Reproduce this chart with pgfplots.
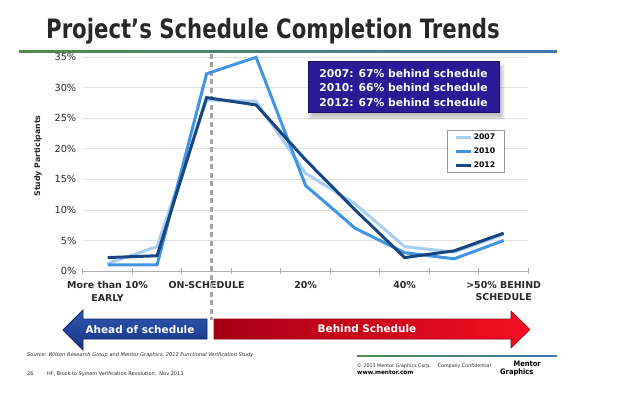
\documentclass[border=0pt]{standalone}
\usepackage{fontspec}
\setmainfont{DejaVu Sans}
\newfontfamily\condf{DejaVu Sans Condensed}
\usepackage{pgfplots}
\pgfplotsset{compat=1.18}
\usetikzlibrary{calc}
\definecolor{c07}{RGB}{168,206,243}
\definecolor{c10}{RGB}{64,150,230}
\definecolor{c12}{RGB}{24,70,130}
\definecolor{txt}{RGB}{40,40,40}
\definecolor{gridc}{RGB}{224,224,224}
\definecolor{boxc}{RGB}{42,26,150}
\definecolor{boxedge}{RGB}{25,15,100}
\definecolor{axc}{RGB}{175,175,175}
\definecolor{lgc}{RGB}{150,150,150}
\definecolor{dashc}{RGB}{165,165,165}
\begin{document}
\begin{tikzpicture}[x=1bp,y=1bp]
\begin{axis}[
  scale only axis, width=445.6bp, height=213.7bp,
  xmin=0.5, xmax=9.5, ymin=0, ymax=35,
  clip=false,
  axis lines*=left,
  y axis line style={draw=none},
  x axis line style={draw=axc, line width=0.8bp},
  xtick={0.5,1.5,...,9.5}, xticklabels={},
  xtick style={draw=axc, line width=0.8bp},
  xtick align=center, major tick length=6bp,
  ytick={0,5,...,35},
  yticklabel={\pgfmathprintnumber{\tick}\%},
  ytick style={draw=none},
  yticklabel style={font=\fontsize{9.8}{11}\selectfont, text=txt, xshift=-3bp},
  /pgf/number format/assume math mode=true,
  ymajorgrids, grid style={gridc, line width=0.8bp},
  extra x ticks={1,3,5,7,9},
  extra x tick labels={More than 10\%\\EARLY, ON-SCHEDULE, 20\%, 40\%, >50\% BEHIND\\SCHEDULE},
  extra x tick style={major tick length=0pt, grid=none,
    xticklabel style={align=center, text=txt, inner sep=0pt, yshift=-10bp,
      font=\bfseries\fontsize{9.5}{12.7}\selectfont}},
  legend cell align=left,
  legend style={at={(0.817,0.66)}, anchor=north west, draw=lgc,
    line width=0.6bp, inner xsep=8bp, inner ysep=2.5bp, row sep=5bp,
    font=\bfseries\fontsize{7.7}{9}\selectfont,
    nodes={inner sep=1bp, text height=6bp, text depth=1bp}},
  legend image code/.code={\draw[#1, line width=2.6bp] (0bp,0bp) -- (15bp,0bp);},
]
\coordinate (O) at (rel axis cs:0,0);
\draw[dashc, line width=2.2bp, dash pattern=on 5bp off 3.5bp] (axis cs:3.1,35.6) -- (axis cs:3.1,-8.1);
\addplot[c07, line width=3bp] coordinates {(1,1.2) (2,4) (3,28) (4,27.8) (5,16) (6,11) (7,4) (8,3.1) (9,6)};
\addlegendentry{2007}
\addplot[c10, line width=3bp] coordinates {(1,1) (2,1) (3,32.3) (4,35) (5,14) (6,7) (7,3) (8,2) (9,5)};
\addlegendentry{2010}
\addplot[c12, line width=3bp] coordinates {(1,2.2) (2,2.5) (3,28.4) (4,27.2) (5,18.2) (6,10) (7,2.2) (8,3.3) (9,6.2)};
\addlegendentry{2012}
\end{axis}

\begin{scope}[shift={($(O)-(82.8,121)$)}]
\useasboundingbox (0,0) rectangle (627,392);
% title
\node[anchor=base west, text=txt, inner sep=0] at (46,354)
  {\scalebox{1}[1.13]{\condf\bfseries\fontsize{23.7}{28}\selectfont Project’s Schedule Completion Trends}};
\shade[left color={rgb,255:red,80;green,140;blue,70}, right color={rgb,255:red,60;green,120;blue,175}] (19,339.5) rectangle (557,341.5);
% y label
\node[rotate=90, text=txt, font=\bfseries\fontsize{7.8}{9}\selectfont] at (38,236) {Study Participants};

% annotation box with shadow
\foreach \i in {0,1,2,3,4} {
  \fill[black, opacity=0.05] (308+\i,280-8+\i) rectangle (499+6-\i,331-3-\i);
}
\fill[boxc] (308,280) rectangle (499,331);
\draw[draw=boxedge, line width=0.8bp] (308,280) rectangle (499,331);
\node[align=left, text=white, font=\bfseries\fontsize{10.8}{14.5}\selectfont, inner sep=0] at (403.5,304.2)
  {2007: 67\% behind schedule\\2010: 66\% behind schedule\\2012: 67\% behind schedule};

% arrows
\shade[top color={rgb,255:red,45;green,88;blue,175}, bottom color={rgb,255:red,20;green,52;blue,130}, draw={rgb,255:red,15;green,40;blue,105}, line width=0.8bp]
  (63,62) -- (83,82) -- (83,73) -- (207,73) -- (207,53) -- (83,53) -- (83,42) -- cycle;
\shade[left color={rgb,255:red,165;green,0;blue,20}, right color={rgb,255:red,245;green,15;blue,35}, draw={rgb,255:red,150;green,0;blue,15}, line width=0.6bp]
  (214,73) -- (511,73) -- (511,81) -- (530,62.5) -- (511,44) -- (511,53) -- (214,53) -- cycle;
\node[text=white, font=\bfseries\fontsize{10.5}{12}\selectfont] at (140,62) {Ahead of schedule};
\node[text=white, font=\bfseries\fontsize{10.5}{12}\selectfont] at (367,63) {Behind Schedule};

% footer
\node[anchor=base west, inner sep=0, text=txt, font=\itshape\fontsize{5.1}{6}\selectfont] at (27,36) {Source: Wilson Research Group and Mentor Graphics, 2012 Functional Verification Study};
\node[anchor=base west, inner sep=0, text=txt, font=\fontsize{5}{6}\selectfont] at (27,17) {26};
\node[anchor=base west, inner sep=0, text=txt, font=\fontsize{5}{6}\selectfont] at (47,17) {HF, Block to System Verification Revolution, \ Nov 2013};
\shade[left color={rgb,255:red,80;green,140;blue,70}, right color={rgb,255:red,60;green,120;blue,175}] (357,35.5) rectangle (557,36.5);
\node[anchor=base west, inner sep=0, text=txt, font=\fontsize{4.8}{6}\selectfont] at (357,25) {© 2013 Mentor Graphics Corp. \quad Company Confidential};
\node[anchor=base west, inner sep=0, text=black, font=\bfseries\fontsize{5.8}{7}\selectfont] at (357,18) {www.mentor.com};
\node[anchor=base east, inner sep=0, text=black, font=\condf\bfseries\fontsize{7.5}{9}\selectfont] at (541,25.5) {Mentor};
\node[anchor=base west, inner sep=0, text=black, font=\condf\bfseries\fontsize{7.5}{9}\selectfont] at (500,17.5) {Graphics};
\end{scope}
\end{tikzpicture}
\end{document}
